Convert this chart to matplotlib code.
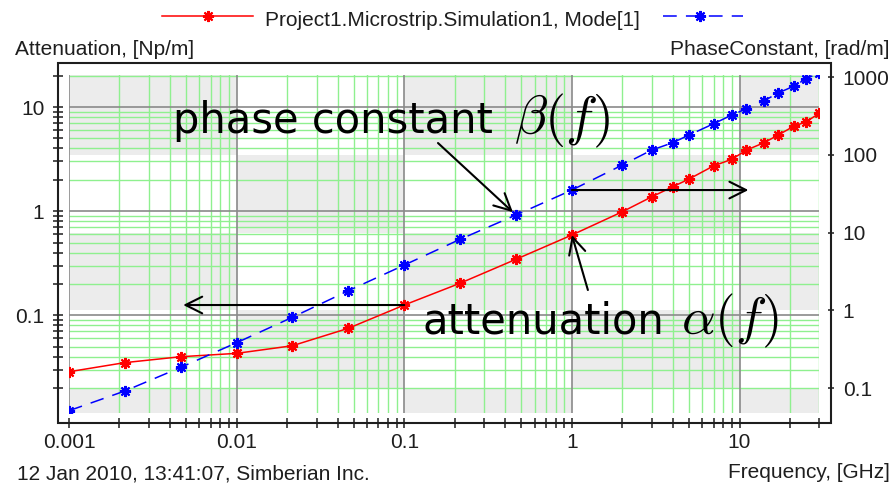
import matplotlib
matplotlib.use('Agg')
import matplotlib.pyplot as plt
from matplotlib.patches import Rectangle
from matplotlib.lines import Line2D
from matplotlib.ticker import NullFormatter, NullLocator
from matplotlib.transforms import blended_transform_factory

# sweep points, GHz
freq = [0.001, 0.00215, 0.00464, 0.01, 0.0215, 0.0464, 0.1, 0.215, 0.464, 1,
        2, 3, 4, 5, 7, 9, 11, 14, 17, 21, 25, 30]
# attenuation, Np/m
alpha = [0.0287, 0.0351, 0.0400, 0.0431, 0.0510, 0.0750, 0.1255, 0.203, 0.345, 0.590,
         0.987, 1.375, 1.717, 2.035, 2.72, 3.15, 3.86, 4.54, 5.38, 6.52, 7.22, 8.75]
# phase constant, rad/m
beta = [0.0513, 0.0918, 0.185, 0.384, 0.815, 1.79, 3.83, 8.2, 16.85, 35.3,
        74.1, 115.6, 143.5, 180.3, 251, 326, 391, 496, 625, 762, 954, 1140]

x_ticks = [0.001, 0.01, 0.1, 1, 10]
x_ticklabels = ['0.001', '0.01', '0.1', '1', '10']
att_ticks = [0.1, 1, 10]
att_ticklabels = ['0.1', '1', '10']
ph_ticks = [0.1, 1, 10, 100, 1000]
ph_ticklabels = ['0.1', '1', '10', '100', '1000']

x_range = (0.001, 30)
att_range = (0.01145, 20.3)
ph_range = (0.0475, 1065)

legend_label = 'Project1.Microstrip.Simulation1, Mode[1]'
stamp = '12 Jan 2010, 13:41:07, Simberian Inc.'

ui_size = 15
plt.rcParams['font.family'] = ['Liberation Sans', 'DejaVu Sans']
plt.rcParams['mathtext.fontset'] = 'cm'

ink = '#1e1e1e'
green = '#8ff08f'
major_grid = '#8a8a8a'
shade = '#ececec'

W, H = 895, 484
fig = plt.figure(figsize=(W / 100, H / 100), dpi=100)


def fx(x):
    return x / W


def fy(y):
    return 1 - y / H


ax = fig.add_axes([fx(69), fy(413.3), fx(819.5) - fx(69), (413.3 - 75) / H])
ax2 = ax.twinx()

ax.set_xscale('log')
ax.set_yscale('log')
ax2.set_yscale('log')
ax.set_xlim(*x_range)
ax.set_ylim(*att_range)
ax2.set_ylim(*ph_range)

def minor_ticks(lo, hi):
    out = []
    for e in range(-3, 3):
        for m in range(2, 10):
            v = m * 10.0 ** e
            if lo <= v <= hi * 1.001:
                out.append(v)
    return out

x_minor = minor_ticks(*x_range)
att_minor = minor_ticks(*att_range)

ax.set_xticks(x_ticks, x_ticklabels)
ax.set_xticks(x_minor, minor=True)
ax.xaxis.set_minor_formatter(NullFormatter())
ax.set_yticks(att_ticks, att_ticklabels)
ax.set_yticks(att_minor, minor=True)
ax.yaxis.set_minor_formatter(NullFormatter())
ax2.set_yticks(ph_ticks, ph_ticklabels)
ax2.yaxis.set_minor_locator(NullLocator())

for a in (ax, ax2):
    for s in a.spines.values():
        s.set_visible(False)
ax.spines['left'].set_position(('outward', 7.6))
ax.spines['bottom'].set_position(('outward', 7.0))
ax2.spines['right'].set_position(('outward', 8.3))

ax.tick_params(axis='x', which='both', direction='inout', length=7.2, width=1.1,
               pad=3.6, labelsize=ui_size, color=ink, labelcolor=ink)
ax.tick_params(axis='y', which='both', direction='inout', length=7.2, width=1.1,
               pad=6.5, labelsize=ui_size, color=ink, labelcolor=ink)
ax2.tick_params(axis='y', which='both', direction='inout', length=5, width=1.1,
                pad=6, labelsize=ui_size, color=ink, labelcolor=ink)

# outer frame around the plotting area
fig.add_artist(Rectangle((fx(58.5), fy(423)), fx(831) - fx(58.5), (423 - 62.5) / H,
                         transform=fig.transFigure, fill=False, lw=1.5, ec=ink))

# checkerboard shading follows decades of x and of the phase axis
blend = blended_transform_factory(ax.transData, ax2.transData)
x_edges = [x_range[0], 0.01, 0.1, 1, 10, x_range[1]]
y_edges = [ph_range[1], 100, 10, 1, 0.1, ph_range[0]]
for i in range(len(x_edges) - 1):
    for j in range(len(y_edges) - 1):
        if (i + j) % 2 == 0:
            ax.add_patch(Rectangle((x_edges[i], y_edges[j + 1]),
                                   x_edges[i + 1] - x_edges[i],
                                   y_edges[j] - y_edges[j + 1],
                                   transform=blend, facecolor=shade,
                                   edgecolor='none', zorder=0.5))

for x in x_minor:
    ax.axvline(x, color=green, lw=1.0, zorder=1)
for y in att_minor:
    ax.axhline(y, color=green, lw=1.0, zorder=1)
for x in x_ticks:
    ax.axvline(x, color=major_grid, lw=1.2, zorder=1.5)
for y in att_ticks:
    ax.axhline(y, color=major_grid, lw=1.2, zorder=1.5)

star = (8, 2, 0)
dash = (0, (9, 6))
ax.plot(freq, alpha, color='red', lw=1.1, marker=star, ms=8, mew=1.5, zorder=3)
ax2.plot(freq, beta, color='blue', lw=1.1, ls=dash, marker=star, ms=8, mew=1.5, zorder=3)

arrow = dict(arrowstyle='->,head_length=1.2,head_width=0.6', lw=1.5, color='black',
             mutation_scale=10, shrinkA=0, shrinkB=0)
ax2.annotate('', xy=(freq[8], beta[8]), xytext=(-78, 72), textcoords='offset pixels',
             arrowprops={**arrow, 'shrinkB': 3})
ax.annotate('', xy=(0.0048, alpha[6]), xytext=(freq[6], alpha[6]), arrowprops=arrow)
ax2.annotate('', xy=(11.3, beta[9]), xytext=(freq[9], beta[9]), arrowprops=arrow)
ax.annotate('', xy=(freq[9], alpha[9]), xytext=(16, -55), textcoords='offset pixels',
            arrowprops=arrow)

fig.text(fx(173), fy(133.5), 'phase constant', fontsize=30, family='DejaVu Sans',
         va='baseline', color='black')
fig.text(fx(514), fy(134), r'$\beta(f)$', fontsize=39, va='baseline', color='black')
fig.text(fx(422.5), fy(333), 'attenuation', fontsize=30, family='DejaVu Sans',
         va='baseline', color='black')
fig.text(fx(681), fy(334), r'$\alpha(f)$', fontsize=38, va='baseline', color='black')

# axis captions
fig.text(fx(15), fy(55), 'Attenuation, [Np/m]', fontsize=ui_size, color=ink, va='baseline')
fig.text(fx(890), fy(55), 'PhaseConstant, [rad/m]', fontsize=ui_size, color=ink,
         va='baseline', ha='right')
fig.text(fx(17), fy(479), stamp, fontsize=ui_size, color=ink, va='baseline')
fig.text(fx(890), fy(478), 'Frequency, [GHz]', fontsize=ui_size, color=ink,
         va='baseline', ha='right')

# legend row
fig.add_artist(Line2D([fx(162), fx(253)], [fy(16), fy(16)], color='red', lw=1.1,
                      transform=fig.transFigure))
fig.add_artist(Line2D([fx(208)], [fy(16)], color='red', marker=star, ms=8, mew=1.5,
                      ls='none', transform=fig.transFigure))
fig.text(fx(265), fy(26), legend_label, fontsize=ui_size, color=ink, va='baseline')
fig.add_artist(Line2D([fx(663), fx(743)], [fy(16), fy(16)], color='blue', lw=1.1, ls=dash,
                      transform=fig.transFigure))
fig.add_artist(Line2D([fx(700)], [fy(16)], color='blue', marker=star, ms=8, mew=1.5,
                      ls='none', transform=fig.transFigure))

fig.savefig('out.png', dpi=100, facecolor='white')
